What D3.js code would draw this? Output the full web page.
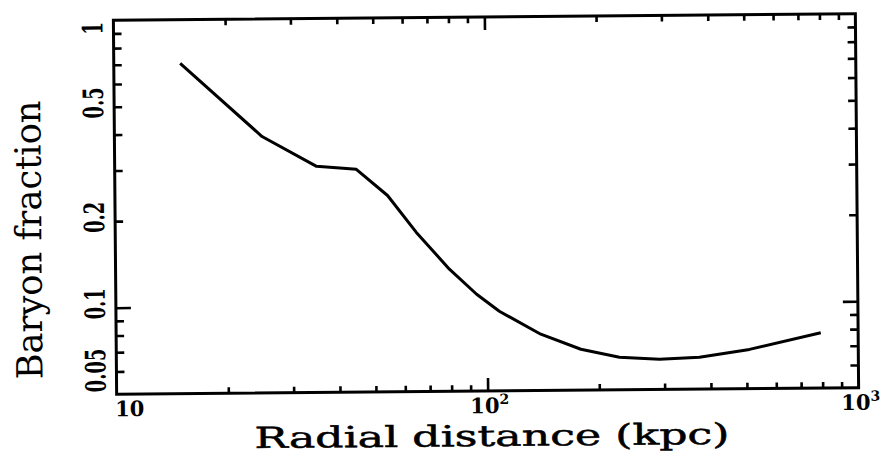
<!DOCTYPE html>
<html><head><meta charset="utf-8">
<script src="https://cdn.jsdelivr.net/npm/d3@7"></script>
<style>body{margin:0;background:#fff}svg{display:block}</style>
</head><body>
<svg id="c" width="881" height="458"></svg>
<script>
// ---- data ----
const radius = [15.1, 25.0, 35.0, 44.8, 54.3, 64.8, 79.4, 93.9, 108, 139.5, 178.8, 227, 291, 373, 509, 793];
const baryonFraction = [0.704, 0.390, 0.306, 0.298, 0.241, 0.179, 0.133, 0.1086, 0.0946, 0.0785, 0.0694, 0.0649, 0.0637, 0.0645, 0.0685, 0.0779];
const yTickValues = [0.05, 0.1, 0.2, 0.5, 1];
const yTickLabels = ["0.05", "0.1", "0.2", "0.5", "1"];
const yMinorTicks = [0.06, 0.07, 0.08, 0.09, 0.2, 0.3, 0.4, 0.5, 0.6, 0.7, 0.8, 0.9];
const yMajorTicks = [0.1];
const xTickValues = [10, 100, 1000];
const xTickBase = ["10", "10", "10"];
const xTickExp = ["", "2", "3"];
const xMinorTicks = [20, 30, 40, 50, 60, 70, 80, 90, 200, 300, 400, 500, 600, 700, 800, 900];
const xMajorTicks = [100];
const xTitle = "Radial distance (kpc)";
const yTitle = "Baryon fraction";

// ---- layout ----
const L = 115, R = 857, T = 17, B = 391;
const svg = d3.select("#c");
const g = svg.append("g").attr("transform", "rotate(-0.5,486,204)");

const x = d3.scaleLog().domain([10, 1000]).range([L, R]);
const y = d3.scaleLog().domain([0.05, 1]).range([B, T]);

function styleAxis(sel) {
  sel.select(".domain").remove();
  sel.selectAll(".tick line").attr("stroke", "#000").attr("stroke-width", 2.6);
  sel.selectAll(".tick text").remove();
}
const axes = [
  [d3.axisBottom(x).tickValues(xMinorTicks).tickSize(-6), `translate(0,${B})`],
  [d3.axisBottom(x).tickValues(xMajorTicks).tickSize(-13), `translate(0,${B})`],
  [d3.axisTop(x).tickValues(xMinorTicks).tickSize(-6), `translate(0,${T})`],
  [d3.axisTop(x).tickValues(xMajorTicks).tickSize(-13), `translate(0,${T})`],
  [d3.axisLeft(y).tickValues(yMinorTicks).tickSize(-8), `translate(${L},0)`],
  [d3.axisLeft(y).tickValues(yMajorTicks).tickSize(-15), `translate(${L},0)`],
  [d3.axisRight(y).tickValues(yMinorTicks).tickSize(-8), `translate(${R},0)`],
  [d3.axisRight(y).tickValues(yMajorTicks).tickSize(-15), `translate(${R},0)`]
];
axes.forEach(([ax, tr]) => g.append("g").attr("transform", tr).call(ax).call(styleAxis));

// frame
g.append("rect").attr("x", L).attr("y", T).attr("width", R - L).attr("height", B - T)
  .attr("fill", "none").attr("stroke", "#000").attr("stroke-width", 3);

// curve
const pts = radius.map((r, i) => [r, baryonFraction[i]]);
g.append("path").datum(pts)
  .attr("d", d3.line().x(d => x(d[0])).y(d => y(d[1])).curve(d3.curveLinear))
  .attr("fill", "none").attr("stroke", "#000").attr("stroke-width", 3)
  .attr("stroke-linejoin", "round");

// y tick labels (rotated); end labels are nudged inside the frame as in the original
const yLabelShift = {"0.05": -24, "1": 8};
yTickValues.forEach((v, i) => {
  const lab = yTickLabels[i];
  const dy = (lab in yLabelShift) ? yLabelShift[lab] : -4;
  g.append("text")
    .attr("transform", `translate(104,${y(v) + dy}) rotate(-90) scale(0.64,1)`)
    .attr("text-anchor", "middle")
    .attr("font-family", "DejaVu Serif").attr("font-weight", "bold").attr("font-size", 28)
    .attr("fill", "#000").text(lab);
});

// x tick labels
xTickValues.forEach((v, i) => {
  const t = g.append("text")
    .attr("x", x(v) + (i === 0 ? 13 : 2)).attr("y", 413)
    .attr("text-anchor", "middle")
    .attr("font-family", "DejaVu Serif").attr("font-weight", "bold").attr("font-size", 21)
    .attr("fill", "#000");
  t.append("tspan").text(xTickBase[i]);
  if (xTickExp[i]) t.append("tspan").attr("dy", -9).attr("font-size", 14).text(xTickExp[i]);
});

// titles
g.append("text")
  .attr("x", 490).attr("y", 446)
  .attr("text-anchor", "middle")
  .attr("font-family", "DejaVu Serif").attr("font-size", 29)
  .attr("stroke", "#000").attr("stroke-width", 0.5)
  .attr("textLength", 475).attr("lengthAdjust", "spacingAndGlyphs")
  .attr("fill", "#000").text(xTitle);

g.append("text")
  .attr("transform", `translate(41,236) rotate(-90) scale(0.98,1)`)
  .attr("text-anchor", "middle")
  .attr("font-family", "DejaVu Serif").attr("font-size", 36)
  .attr("fill", "#000").text(yTitle);
</script>
</body></html>
